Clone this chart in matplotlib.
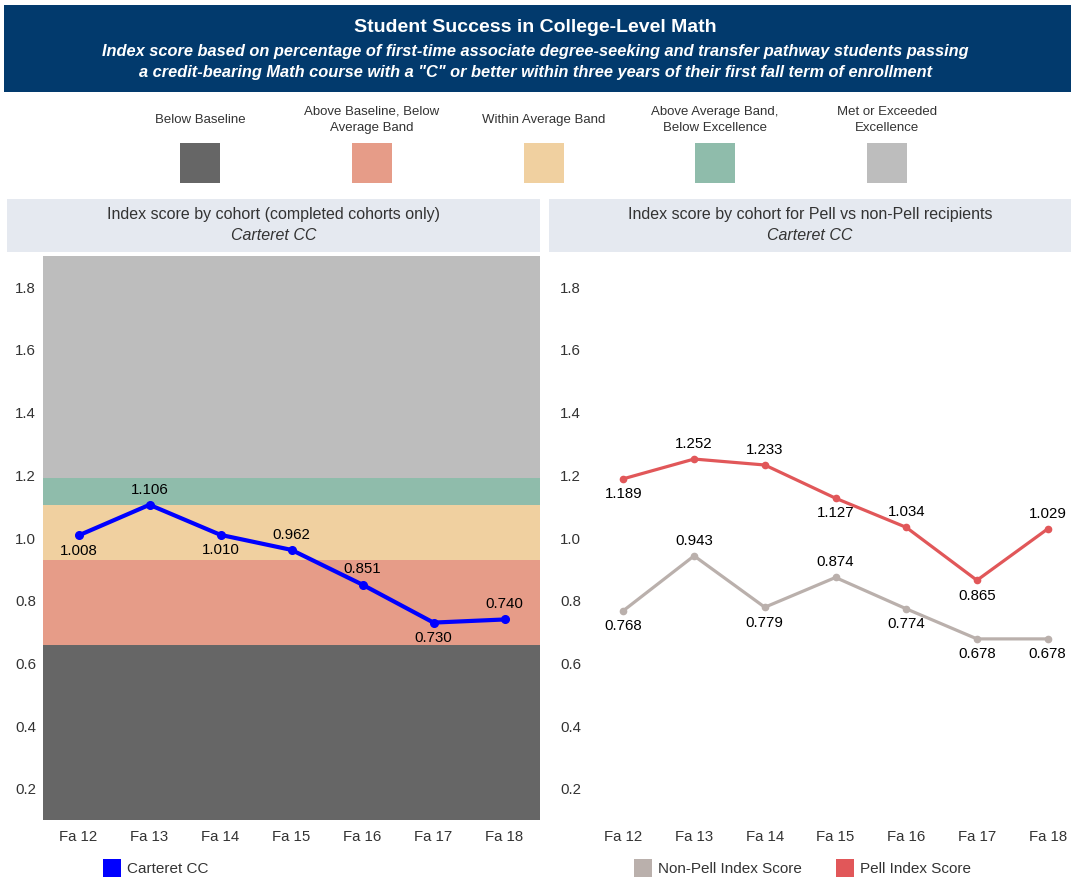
import matplotlib.pyplot as plt
from matplotlib.patches import Rectangle

plt.rcParams['font.family'] = ['Liberation Sans', 'DejaVu Sans']

# Données
cohorts = ['Fa 12', 'Fa 13', 'Fa 14', 'Fa 15', 'Fa 16', 'Fa 17', 'Fa 18']
carteret = [1.008, 1.106, 1.010, 0.962, 0.851, 0.730, 0.740]
pell = [1.189, 1.252, 1.233, 1.127, 1.034, 0.865, 1.029]
non_pell = [0.768, 0.943, 0.779, 0.874, 0.774, 0.678, 0.678]

# position des étiquettes : +1 au-dessus, -1 en dessous
carteret_pos = [-1, 1, -1, 1, 1, -1, 1]
pell_pos = [-1, 1, 1, -1, 1, -1, 1]
non_pell_pos = [-1, 1, -1, 1, -1, -1, -1]

# Bandes (bornes) et légende
band_edges = [0.1, 0.66, 0.93, 1.106, 1.19, 1.9]
band_labels = ['Below Baseline', 'Above Baseline, Below\nAverage Band', 'Within Average Band',
               'Above Average Band,\nBelow Excellence', 'Met or Exceeded\nExcellence']
band_colors = ['#666666', '#e69c88', '#f0d0a0', '#8fbcab', '#bdbdbd']

W, H = 1071, 881
fig = plt.figure(figsize=(W / 100, H / 100), dpi=100)


def fx(px):
    return px / W


def fy(py):
    return 1 - py / H


# Bandeau titre
fig.add_artist(Rectangle((fx(4), fy(92)), fx(1071 - 4), 87 / H, transform=fig.transFigure,
                         facecolor='#023a6d', edgecolor='none'))
fig.text(0.5, fy(28), 'Student Success in College-Level Math', color='white', fontsize=14,
         fontweight='bold', ha='center', va='center')
fig.text(0.5, fy(62), 'Index score based on percentage of first-time associate degree-seeking and transfer pathway students passing\n'
         'a credit-bearing Math course with a "C" or better within three years of their first fall term of enrollment',
         color='white', fontsize=11.8, fontweight='bold', style='italic', ha='center', va='center',
         linespacing=1.5)

# Légende des bandes
centers = [200, 372, 544, 715, 887]
for cx, lab, col in zip(centers, band_labels, band_colors):
    fig.text(fx(cx), fy(120), lab, fontsize=9.5, color='#333333', ha='center', va='center', linespacing=1.5)
    fig.add_artist(Rectangle((fx(cx - 20), fy(183)), 40 / W, 40 / H, transform=fig.transFigure,
                             facecolor=col, edgecolor='none'))

# En-têtes des panneaux
for x0, x1, t in [(7, 540, 'Index score by cohort (completed cohorts only)'),
                  (549, 1071, 'Index score by cohort for Pell vs non-Pell recipients')]:
    fig.add_artist(Rectangle((fx(x0), fy(252)), fx(x1 - x0), 53 / H, transform=fig.transFigure,
                             facecolor='#e5e9f0', edgecolor='none'))
    fig.text(fx((x0 + x1) / 2), fy(215), t, fontsize=11.5, color='#333333', ha='center', va='center')
    fig.text(fx((x0 + x1) / 2), fy(236), 'Carteret CC', fontsize=11.5, color='#333333',
             style='italic', ha='center', va='center')

x = list(range(len(cohorts)))
ax1 = fig.add_axes([fx(43), fy(820), fx(540 - 43), (820 - 256) / H])
ax2 = fig.add_axes([fx(588), fy(820), fx(1071 - 588), (820 - 256) / H])

for lo, hi, col in zip(band_edges[:-1], band_edges[1:], band_colors):
    ax1.axhspan(lo, hi, color=col, lw=0, zorder=0)


def label_points(ax, vals, pos):
    for xi, v, p in zip(x, vals, pos):
        ax.annotate(f'{v:.3f}', (xi, v), xytext=(0, 11 * p), textcoords='offset points',
                    ha='center', va='center', fontsize=10.8, color='black', zorder=5)


ax1.plot(x, carteret, color='#0000ff', lw=3, marker='o', markersize=5.5, zorder=3)
label_points(ax1, carteret, carteret_pos)

ax2.plot(x, non_pell, color='#bab0ac', lw=2.3, marker='o', markersize=4.5, zorder=3)
ax2.plot(x, pell, color='#e15759', lw=2.3, marker='o', markersize=4.5, zorder=3)
label_points(ax2, non_pell, non_pell_pos)
label_points(ax2, pell, pell_pos)

for ax in (ax1, ax2):
    ax.set_ylim(0.1, 1.9)
    ax.set_yticks([0.2, 0.4, 0.6, 0.8, 1.0, 1.2, 1.4, 1.6, 1.8])
    ax.set_xticks(x)
    ax.set_xticklabels(cohorts)
    ax.tick_params(length=0, labelsize=10.8, labelcolor='#333333')
    ax.tick_params(axis='x', pad=7)
    ax.tick_params(axis='y', pad=5)
    for s in ax.spines.values():
        s.set_visible(False)
    ax.set_facecolor('none')
ax1.set_xlim(-0.5, 6.5)
ax2.set_xlim(-0.5, 6.33)


# Légendes du bas
def swatch(px, col, text):
    fig.add_artist(Rectangle((fx(px), fy(877)), 18 / W, 18 / H, transform=fig.transFigure,
                             facecolor=col, edgecolor='none'))
    fig.text(fx(px + 24), fy(869), text, fontsize=11, color='#333333', va='center')


swatch(103, '#0000ff', 'Carteret CC')
swatch(634, '#bab0ac', 'Non-Pell Index Score')
swatch(836, '#e15759', 'Pell Index Score')

fig.savefig('out.png', dpi=100)
